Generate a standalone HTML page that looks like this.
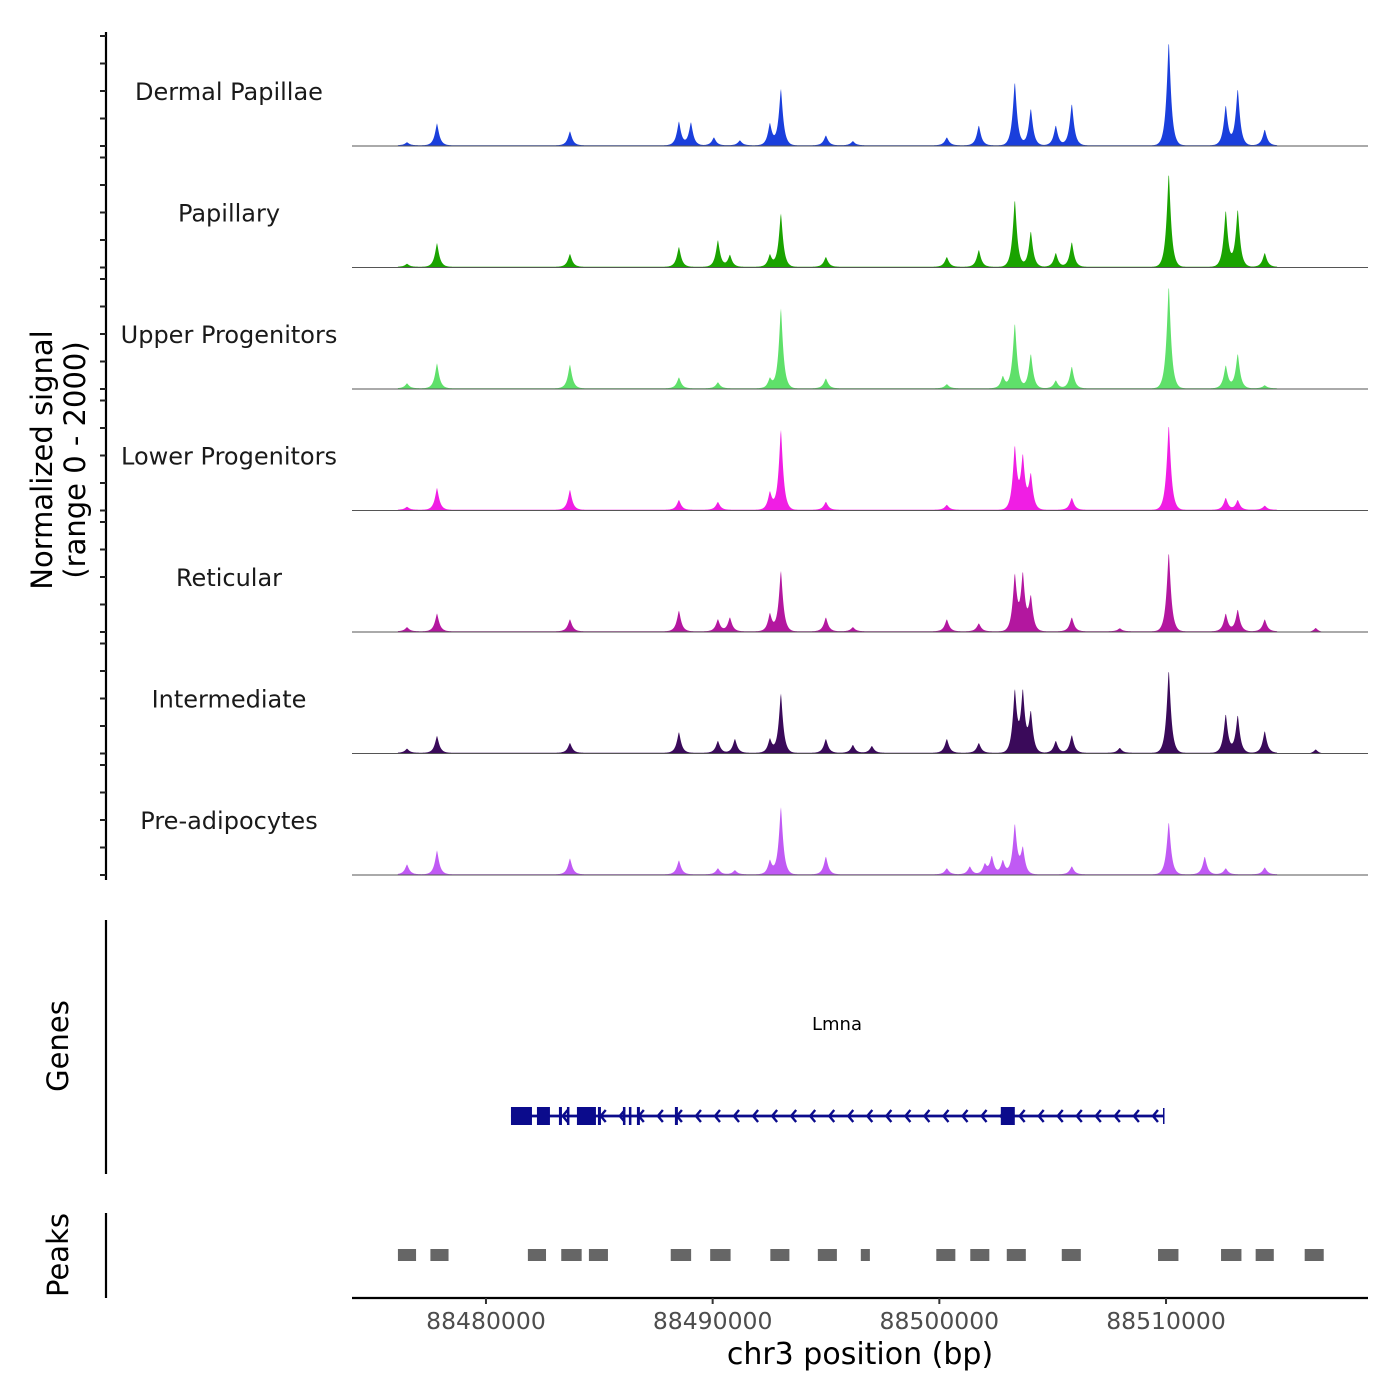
<!DOCTYPE html>
<html><head><meta charset="utf-8"><style>
html,body{margin:0;padding:0;background:#fff;}
svg{display:block;font-family:"DejaVu Sans","Liberation Sans",sans-serif;}
</style></head>
<body>
<svg id="chart" width="1400" height="1400" viewBox="0 0 1400 1400"></svg>
<script>
// ---- data ----
const trackNames = ["Dermal Papillae","Papillary","Upper Progenitors","Lower Progenitors","Reticular","Intermediate","Pre-adipocytes"];
const trackColors = ["#1a3fdc","#1aa300","#5fe06a","#f01ee4","#b3179f","#3a0a5a","#c05af4"];
const peakPos = [88476516,88477839,88483704,88488511,88489041,88490055,88490231,88490760,88490981,88491201,88492524,88493010,88494994,88496185,88497023,88500330,88501344,88501741,88502006,88502315,88502800,88503329,88503682,88504035,88505137,88505843,88507959,88510120,88511708,88512634,88513163,88514354,88516603];
const sigDermal = [55,400,255,435,420,145,0,0,0,90,400,1035,180,75,0,145,0,365,0,0,0,1165,0,675,365,765,0,1910,0,730,1035,290,0];
const sigPapillary = [55,435,235,365,0,0,490,220,0,0,220,980,180,0,0,180,0,310,0,0,0,1235,0,655,255,455,0,1725,0,1035,1055,255,0];
const sigUpper = [90,455,435,200,0,0,110,0,0,0,180,1470,180,0,0,75,0,0,0,0,220,1200,0,635,145,400,0,1890,0,420,635,55,0];
const sigLower = [55,400,365,180,0,0,145,0,0,0,325,1470,145,0,0,90,0,0,0,0,0,1145,945,635,0,220,0,1565,0,220,180,75,0];
const sigReticular = [75,325,220,380,0,0,220,255,0,0,325,1110,255,75,0,220,0,145,0,0,0,1020,1020,620,0,255,55,1455,0,325,400,220,75];
const sigIntermediate = [75,310,180,380,0,0,220,0,255,0,255,1090,255,145,125,255,0,180,0,0,0,1125,1090,725,220,325,90,1525,0,710,690,400,75];
const sigPreadipocytes = [180,435,290,255,0,0,110,0,75,0,255,1235,325,0,0,110,145,0,180,325,255,910,470,0,0,145,0,965,325,110,0,125,0];
const trackSignals = [sigDermal,sigPapillary,sigUpper,sigLower,sigReticular,sigIntermediate,sigPreadipocytes];
const xTicks = [88480000,88490000,88500000,88510000];
const exonStarts = [88481103,88482249,88483219,88483572,88484013,88484939,88486042,88486306,88486659,88488335,88502712];
const exonEnds   = [88482029,88482822,88483352,88483660,88484851,88485072,88486130,88486395,88486791,88488467,88503329];
const geneStart = 88481103, geneEnd = 88509900;
const peakStarts = [88476116,88477549,88481849,88483321,88484541,88488150,88489891,88492545,88494640,88496536,88499866,88501365,88502975,88505401,88509648,88512427,88513954,88516117];
const peakEnds   = [88476916,88478349,88482649,88484221,88485381,88489050,88490791,88493385,88495480,88496936,88500706,88502205,88503815,88506241,88510548,88513327,88514754,88516957];

// ---- scales ----
const X0=352, X1=1368, D0=88474090, D1=88518910;
const xs = v => X0 + (v-D0)/(D1-D0)*(X1-X0);
const trackTop = i => 36 + i*121.5;
const trackBase = i => 146 + i*121.5;
const ys = (i,v) => trackBase(i) - v/2000*110;

const NS="http://www.w3.org/2000/svg";
const svg=document.getElementById('chart');
function mk(tag,attrs,parent){const e=document.createElementNS(NS,tag);for(const k in attrs)e.setAttribute(k,attrs[k]);(parent||svg).appendChild(e);return e;}

// left y axis with ticks
const yAxis=mk('g',{});


mk('line',{x1:106,y1:32,x2:106,y2:880,stroke:'#000','stroke-width':2.2},yAxis);
for(let i=0;i<7;i++){for(let k=0;k<=4;k++){const y=ys(i,k*500);mk('line',{x1:100,y1:y,x2:106,y2:y,stroke:'#222','stroke-width':2},yAxis);}}
const yt=mk('text',{transform:'translate(52,460) rotate(-90)','text-anchor':'middle','font-size':29,fill:'#000'});
yt.textContent='Normalized signal';


const yt2=mk('text',{transform:'translate(85,460) rotate(-90)','text-anchor':'middle','font-size':29,fill:'#000'});
yt2.textContent='(range 0 - 2000)';



// tracks
for(let i=0;i<7;i++){
  const g=mk('g',{});
  
  
  const lab=mk('text',{x:229,y:trackTop(i)+64,'text-anchor':'middle','font-size':24,fill:'#1a1a1a'},g);
  lab.textContent=trackNames[i];
  
  
  const sig=trackSignals[i];
  let d='M'+X0+','+trackBase(i);
  const lo=xs(88476100), hi=xs(88514900);
  for(let px=X0;px<=X1;px+=0.5){
    const bp=D0+(px-X0)/(X1-X0)*(D1-D0);
    let v=0;
    for(let p=0;p<peakPos.length;p++){const dd=Math.abs(bp-peakPos[p]);v+=sig[p]*(0.82*Math.exp(-Math.pow(dd/110,1.3))+0.18*Math.exp(-Math.pow(dd/300,2)));}
    if(px>lo&&px<hi)v+=14;
    d+=' L'+px+','+ys(i,Math.min(v,2000)).toFixed(2);
  }
  d+=' L'+X1+','+trackBase(i)+' Z';
  const area=mk('path',{d:d,fill:trackColors[i],stroke:'none'},g);
  
  
  mk('line',{x1:X0,y1:trackBase(i),x2:X1,y2:trackBase(i),stroke:'#555','stroke-width':1},g);
}

// genes track
const gg=mk('g',{});


mk('line',{x1:106,y1:920,x2:106,y2:1174,stroke:'#000','stroke-width':2.2},gg);
const gt=mk('text',{transform:'translate(68,1046) rotate(-90)','text-anchor':'middle','font-size':29},gg);
gt.textContent='Genes';


const gl=mk('text',{x:837,y:1030,'text-anchor':'middle','font-size':18},gg);
gl.textContent='Lmna';


const GY=1116, GC='#0b0b8c';
mk('line',{x1:xs(geneStart),y1:GY,x2:xs(geneEnd),y2:GY,stroke:GC,'stroke-width':2.8},gg);
mk('line',{x1:xs(geneEnd),y1:GY-8,x2:xs(geneEnd),y2:GY+8,stroke:GC,'stroke-width':1.5},gg);
for(let bp=geneStart+600;bp<geneEnd;bp+=840){const x=xs(bp);mk('path',{d:`M${x+5},${GY-6} L${x},${GY} L${x+5},${GY+6}`,fill:'none',stroke:GC,'stroke-width':2.4},gg);}
for(let e=0;e<exonStarts.length;e++){
  const x1=xs(exonStarts[e]),x2=xs(exonEnds[e]);
  const r=mk('rect',{x:x1,y:GY-9,width:Math.max(x2-x1,2.5),height:18,fill:GC},gg);
  
  
}

// peaks track
const pg=mk('g',{});


mk('line',{x1:106,y1:1213,x2:106,y2:1298,stroke:'#000','stroke-width':2.2},pg);
const pt=mk('text',{transform:'translate(68,1255) rotate(-90)','text-anchor':'middle','font-size':29},pg);
pt.textContent='Peaks';


for(let p=0;p<peakStarts.length;p++){
  const r=mk('rect',{x:xs(peakStarts[p]),y:1249,width:xs(peakEnds[p])-xs(peakStarts[p]),height:12,fill:'#666'},pg);
  
  
}

// x axis
const xa=mk('g',{});


mk('line',{x1:X0,y1:1298,x2:X1,y2:1298,stroke:'#000','stroke-width':2.2},xa);
xTicks.forEach(t=>{
  const x=xs(t);
  mk('line',{x1:x,y1:1298,x2:x,y2:1304,stroke:'#333','stroke-width':2},xa);
  const tx=mk('text',{x:x,y:1329,'text-anchor':'middle','font-size':23.5,fill:'#4d4d4d'},xa);
  tx.textContent=String(t);
  
  
});
const xt=mk('text',{x:860,y:1364,'text-anchor':'middle','font-size':30,fill:'#000'},xa);
xt.textContent='chr3 position (bp)';


</script>
</body></html>
